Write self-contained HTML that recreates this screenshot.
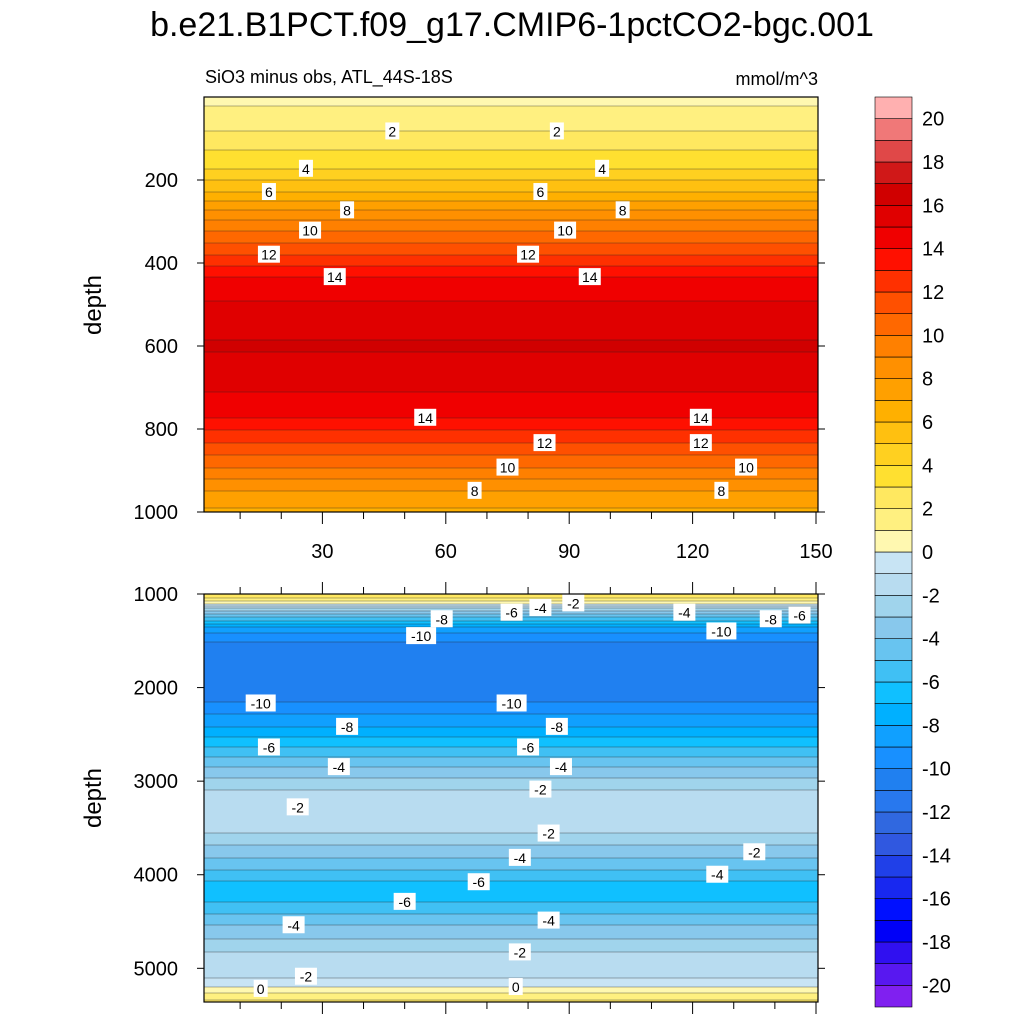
<!DOCTYPE html>
<html><head><meta charset="utf-8"><style>
body{margin:0;background:#fff;}
svg{display:block;font-family:"Liberation Sans",sans-serif;}
</style></head><body>
<svg id="c" width="1024" height="1024" viewBox="0 0 1024 1024"></svg>
<script>
// ---- data ----
const levels = [-20,-19,-18,-17,-16,-15,-14,-13,-12,-11,-10,-9,-8,-7,-6,-5,-4,-3,-2,-1,0,1,2,3,4,5,6,7,8,9,10,11,12,13,14,15,16,17,18,19,20];
const colors = ["#8020f0","#5818f0","#3010f0","#0000f8","#0010ff","#1828f0","#2040e8","#3058e0","#3068e0","#2878ee","#2080f0","#1890ff","#10a0ff","#00b0ff","#10c0ff","#40c0f4","#68c4f0","#88c8ec","#a0d4ec","#b8dcf0","#c8e4f4","#fff8b0","#fff080","#ffe860","#ffe030","#ffd020","#ffc010","#ffb000","#ffa000","#ff9000","#ff8000","#ff6800","#ff5000","#ff3000","#ff1000","#f00000","#e00000","#d00000","#d01818","#e04848","#f07878","#ffb0b0"];
const cbLabels = [20,18,16,14,12,10,8,6,4,2,0,-2,-4,-6,-8,-10,-12,-14,-16,-18,-20];
const topDepths = [10,83,173,229,273,322,380,434,520,600,680,773,834,893,949,1000];
const topValues = [0.8,2,4,6,8,10,12,14,15.5,16.1,15.5,14,12,10,8,6.8];
const botDepths = [1000,1060,1110,1150,1250,1350,1450,1550,1700,1900,2150,2420,2640,2850,3090,3300,3550,3820,4070,4150,4290,4540,4830,5100,5200,5300,5370];
const botValues = [3,1.5,0,-2,-5,-8,-9.5,-10.3,-11,-10.9,-10,-8,-6,-4,-2,-1.3,-2,-4,-6,-7,-6,-4,-2,-1,0,1.5,2.5];
const xTicks = [30,60,90,120,150];
const topYTicks = [200,400,600,800,1000];
const botYTicks = [1000,2000,3000,4000,5000];
const topLabels = [[47,83,"2"],[87,83,"2"],[26,173,"4"],[98,173,"4"],[17,229,"6"],[83,229,"6"],[36,273,"8"],[103,273,"8"],[27,322,"10"],[89,322,"10"],[17,380,"12"],[80,380,"12"],[33,434,"14"],[95,434,"14"],[55,773,"14"],[122,773,"14"],[84,834,"12"],[122,834,"12"],[75,893,"10"],[133,893,"10"],[67,949,"8"],[127,949,"8"]];
const botLabels = [[91,1100,"-2"],[83,1150,"-4"],[76,1200,"-6"],[59,1270,"-8"],[118,1200,"-4"],[139,1270,"-8"],[146,1230,"-6"],[54,1450,"-10"],[127,1400,"-10"],[15,2170,"-10"],[76,2170,"-10"],[36,2420,"-8"],[87,2420,"-8"],[17,2640,"-6"],[80,2640,"-6"],[34,2850,"-4"],[88,2850,"-4"],[83,3090,"-2"],[24,3280,"-2"],[85,3560,"-2"],[78,3820,"-4"],[135,3760,"-2"],[126,4000,"-4"],[68,4080,"-6"],[50,4290,"-6"],[23,4540,"-4"],[85,4490,"-4"],[78,4830,"-2"],[26,5090,"-2"],[15,5220,"0"],[77,5200,"0"]];
// ---- helpers ----
const svg=document.getElementById('c');const NS="http://www.w3.org/2000/svg";
function mk(t,a,p){const e=document.createElementNS(NS,t);for(const k in a)e.setAttribute(k,a[k]);(p||svg).appendChild(e);return e;}
function interp(ds,vs,d){if(d<=ds[0])return vs[0];for(let i=1;i<ds.length;i++){if(d<=ds[i]){const t=(d-ds[i-1])/(ds[i]-ds[i-1]);return vs[i-1]+t*(vs[i]-vs[i-1]);}}return vs[vs.length-1];}
function colorFor(v){let i=0;while(i<levels.length&&v>=levels[i])i++;return colors[i];}
const X0=204,X1=818;const xs=yr=>199+yr*(617/150);
function panel(name,yTop,yBot,dTop,dBot,ds,vs,yt,labels){
  const g=mk('g',{});
  const ys=d=>yTop+(d-dTop)/(dBot-dTop)*(yBot-yTop);
  for(let y=yTop;y<yBot;y++){const d=dTop+(y+0.5-yTop)/(yBot-yTop)*(dBot-dTop);
    const r=mk('rect',{x:X0,y:y,width:X1-X0,height:1.05,fill:colorFor(interp(ds,vs,d))},g);
    }
  for(let y=yTop+1;y<yBot;y++){const d0=dTop+(y-0.5-yTop)/(yBot-yTop)*(dBot-dTop),d1=dTop+(y+0.5-yTop)/(yBot-yTop)*(dBot-dTop);
    const a=interp(ds,vs,d0),b=interp(ds,vs,d1);
    if(colorFor(a)!==colorFor(b)){const l=mk('line',{x1:X0,x2:X1,y1:y,y2:y,stroke:'#222','stroke-width':0.6,'stroke-opacity':0.7},g);
      }}
  for(const [yr,d,t] of labels){const x=xs(yr),y=ys(d);
    const w=t.length*8+6;mk('rect',{x:x-w/2,y:y-9,width:w,height:17,fill:'#fff'},g);
    const tx=mk('text',{x:x,y:y+5,'text-anchor':'middle','font-size':14,fill:'#000'},g);tx.textContent=t;
    }
  const fr=mk('rect',{x:X0,y:yTop,width:X1-X0,height:yBot-yTop,fill:'none',stroke:'#000','stroke-width':1.2},g);
  
  for(const d of yt){const y=ys(d);mk('line',{x1:X0-7,x2:X0,y1:y,y2:y,stroke:'#000'},g);mk('line',{x1:X1,x2:X1+7,y1:y,y2:y,stroke:'#000'},g);
    const t=mk('text',{x:X0-26,y:y+7,'text-anchor':'end','font-size':20},g);t.textContent=d;
    }
  return ys;
}
panel('top-panel',97,512,0,1000,topDepths,topValues,topYTicks,topLabels);
panel('bottom-panel',594,1002,1000,5360,botDepths,botValues,botYTicks,botLabels);
for(let yr=10;yr<=150;yr+=10){const x=xs(yr),maj=yr%30===0;
  mk('line',{x1:x,x2:x,y1:512,y2:512+(maj?12:7),stroke:'#000'});
  mk('line',{x1:x,x2:x,y1:594,y2:594-(maj?12:7),stroke:'#000'});
  mk('line',{x1:x,x2:x,y1:1002,y2:1002+(maj?12:7),stroke:'#000'});}
for(const v of xTicks){const t=mk('text',{x:xs(v),y:558,'text-anchor':'middle','font-size':20});t.textContent=v;
  }
let t;
t=mk('text',{x:512,y:36,'text-anchor':'middle','font-size':34});t.textContent='b.e21.B1PCT.f09_g17.CMIP6-1pctCO2-bgc.001';
t=mk('text',{x:205,y:83,'font-size':18});t.textContent='SiO3 minus obs, ATL_44S-18S';
t=mk('text',{x:818,y:85,'text-anchor':'end','font-size':18});t.textContent='mmol/m^3';
t=mk('text',{x:101,y:305,'text-anchor':'middle','font-size':24,transform:'rotate(-90 101 305)'});t.textContent='depth';
t=mk('text',{x:101,y:798,'text-anchor':'middle','font-size':24,transform:'rotate(-90 101 798)'});t.textContent='depth';
const CB0=97,CB1=1007,cbh=(CB1-CB0)/colors.length;
for(let i=0;i<colors.length;i++){const r=mk('rect',{x:875,y:CB1-(i+1)*cbh,width:37,height:cbh,fill:colors[i],stroke:'#000','stroke-width':0.6});
  }
for(const v of cbLabels){const idx=levels.indexOf(v);const y=CB1-(idx+1)*cbh;
  const tx=mk('text',{x:922,y:y+7,'font-size':20});tx.textContent=v;}
</script>
</body></html>
